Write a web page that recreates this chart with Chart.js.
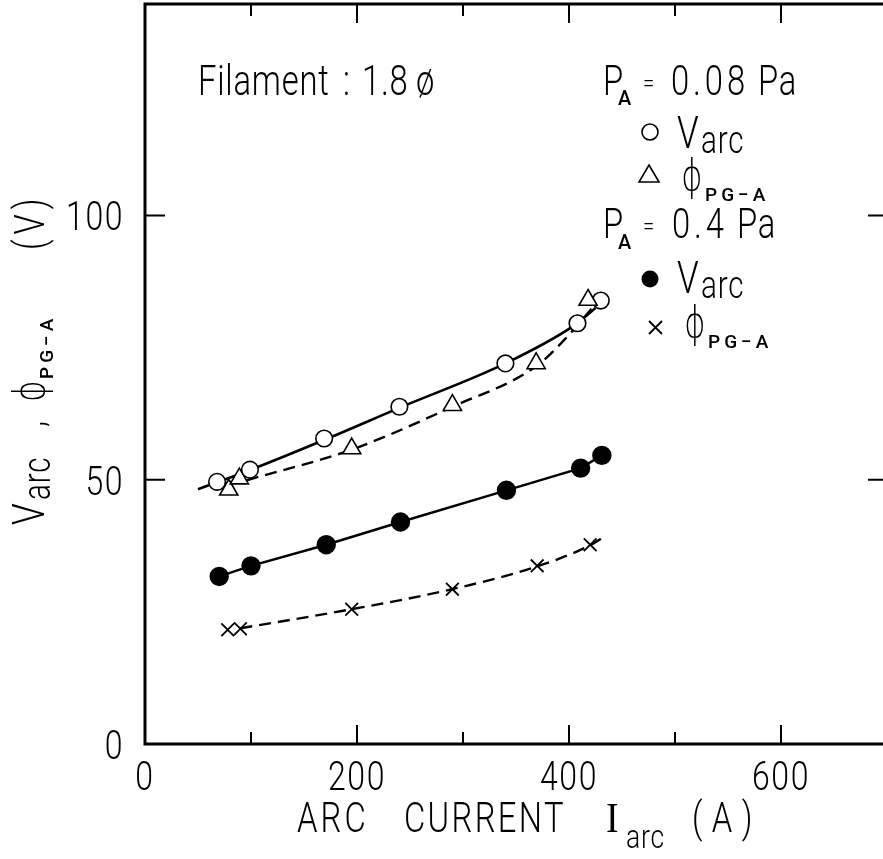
<!DOCTYPE html>
<html>
<head>
<meta charset="utf-8">
<script src="https://cdn.jsdelivr.net/npm/chart.js@4/dist/chart.umd.min.js"></script>
<style>
html,body{margin:0;padding:0;background:#fff;overflow:hidden;width:883px;height:859px;}
#wrap{position:absolute;left:0;top:0;width:890px;height:859px;}
</style>
</head>
<body>
<div id="wrap"><canvas id="c" width="890" height="859"></canvas></div>
<script>
// ---- data ----
const currentOpen   = [68, 99, 169, 240, 340, 408, 430];          // P_A = 0.08 Pa, V_arc (open circles)
const varcLow       = [49.6, 51.9, 57.8, 63.8, 72.0, 79.6, 83.9];
const currentTri    = [79, 89, 195, 290, 369, 418];                // P_A = 0.08 Pa, phi (triangles)
const phiLow        = [48.1, 50.2, 55.9, 64.1, 72.0, 84.0];
const currentFilled = [70, 100, 171, 241, 341, 411, 431];          // P_A = 0.4 Pa, V_arc (filled circles)
const varcHigh      = [31.7, 33.7, 37.7, 42.0, 48.0, 52.2, 54.6];
const currentCross  = [78, 90, 195, 290, 370, 420];                // P_A = 0.4 Pa, phi (crosses)
const phiHigh       = [21.6, 21.8, 25.5, 29.3, 33.7, 37.7];

// hand-drawn guide curves
const fitVarcLowX = [50, 100, 170, 240, 340, 405, 425];
const fitVarcLowY = [48.2, 51.9, 57.6, 63.6, 72.0, 79.2, 82.5];
const fitPhiLowX  = [96, 195, 290, 370, 399, 424];
const fitPhiLowY  = [49.9, 55.7, 63.8, 71.6, 77.2, 83.0];
const fitPhiHighX = [90, 195, 290, 370, 420, 433];
const fitPhiHighY = [21.9, 25.5, 29.3, 33.6, 37.6, 39.2];

const xTicks = [0, 100, 200, 300, 400, 500, 600, 700];
const xLabeled = [0, 200, 400, 600];
const yTicks = [0, 50, 100];

const FONT = 'Roboto,"DejaVu Sans","Liberation Sans",sans-serif';
const SERIF_I = '"Liberation Serif","DejaVu Serif",serif';
const SX = 0.78;

const pts = (xs, ys) => xs.map((x, i) => ({x: x, y: ys[i]}));

const frame = {
  id: 'frame',
  afterDraw(chart) {
    const ctx = chart.ctx, a = chart.chartArea;
    const xs = chart.scales.x, ys = chart.scales.y;
    ctx.save();
    ctx.strokeStyle = '#000';
    ctx.lineWidth = 3;
    ctx.beginPath();
    ctx.rect(a.left, a.top, a.right - a.left, a.bottom - a.top);
    ctx.stroke();
    ctx.lineWidth = 2;
    // x ticks (inward) bottom and top
    xs.ticks.forEach(tk => {
      const v = tk.value;
      if (v === 0 || v === 700) return;
      const px = xs.getPixelForValue(v);
      const len = (v % 200 === 0) ? 19 : 12;
      ctx.beginPath();
      ctx.moveTo(px, a.bottom); ctx.lineTo(px, a.bottom - len);
      ctx.moveTo(px, a.top); ctx.lineTo(px, a.top + len);
      ctx.stroke();
    });
    // y ticks (inward) left and right
    ys.ticks.forEach(tk => {
      const v = tk.value;
      if (v === 0) return;
      const py = ys.getPixelForValue(v);
      ctx.beginPath();
      ctx.moveTo(a.left, py); ctx.lineTo(a.left + 20, py);
      ctx.moveTo(a.right, py); ctx.lineTo(a.right - 19, py);
      ctx.stroke();
    });

    // ---- text ----
    ctx.fillStyle = '#000';
    ctx.textBaseline = 'alphabetic';
    const t = (s, x, y, size, opt) => {
      opt = opt || {};
      ctx.save();
      ctx.font = (opt.w || 300) + ' ' + size + 'px ' + (opt.f || FONT);
      ctx.textAlign = opt.align || 'left';
      ctx.letterSpacing = (opt.ls || 0) + 'px';
      ctx.translate(x, y);
      ctx.scale(opt.sx || SX, 1);
      ctx.fillText(s, 0, 0);
      ctx.restore();
    };
    const SUB = {w: 500, sx: 1, ls: 4};

    // tick labels at the library's tick positions
    xs.ticks.forEach(tk => {
      if (!xLabeled.includes(tk.value)) return;
      t(String(tk.value), xs.getPixelForValue(tk.value), 790, 41, {align: 'center', ls: 2});
    });
    ys.ticks.forEach(tk => {
      t(String(tk.value), 124, ys.getPixelForValue(tk.value) + 15, 41, {align: 'right', ls: 2});
    });

    // Filament label
    t('Filament', 198, 95, 42, {ls: 1});
    t(':', 343, 95, 42);
    t('1.8', 362, 95, 42, {ls: 1});
    t('ø', 416, 95, 42);

    // legend group 1
    t('P', 603, 95, 42); t('A', 618, 105, 20, {w: 500, sx: 1});
    t('=', 643, 92, 26);
    t('0.08', 671, 95, 42, {ls: 5}); t('Pa', 758, 95, 42, {ls: 1});
    ctx.lineWidth = 1.6;
    ctx.beginPath(); ctx.arc(650, 132, 8, 0, Math.PI * 2); ctx.stroke();
    t('V', 677, 148, 45); t('arc', 701, 153, 38, {ls: 1});
    ctx.beginPath();
    ctx.moveTo(649, 165); ctx.lineTo(659, 182); ctx.lineTo(639, 182); ctx.closePath(); ctx.stroke();
    t('ϕ', 681, 190, 42); t('PG−A', 705, 201, 19, SUB);

    // legend group 2
    t('P', 603, 238, 42); t('A', 618, 249, 20, {w: 500, sx: 1});
    t('=', 643, 235, 26);
    t('0.4', 672, 238, 42, {ls: 5}); t('Pa', 737, 238, 42, {ls: 1});
    ctx.beginPath(); ctx.arc(650, 279, 8.5, 0, Math.PI * 2); ctx.fill();
    t('V', 677, 293, 45); t('arc', 701, 298, 38, {ls: 1});
    ctx.lineWidth = 1.8;
    ctx.beginPath();
    ctx.moveTo(649, 321); ctx.lineTo(662, 334);
    ctx.moveTo(662, 321); ctx.lineTo(649, 334);
    ctx.stroke();
    t('ϕ', 684, 337, 42); t('PG−A', 708, 348, 19, SUB);

    // x axis title
    t('ARC', 297, 832, 42, {ls: 4});
    t('CURRENT', 404, 832, 42, {ls: 3});
    t('I', 606, 832, 42, {f: SERIF_I, w: 400, sx: 0.9});
    t('arc', 626, 848, 34, {ls: 1});
    t('(A)', 692, 832, 42, {ls: 12});

    // y axis title (rotated)
    ctx.save();
    ctx.translate(44, 0);
    ctx.rotate(-Math.PI / 2);
    // rotated frame: x = -pageY, y = pageX - 44
    t('V', -525, 0, 45);
    t('arc', -500, 6, 38, {ls: 1});
    t(',', -427, 0, 42);
    t('ϕ', -402, 0, 42);
    t('PG−A', -379, 9, 19, SUB);
    t('(V)', -250, 0, 42, {ls: 6});
    ctx.restore();

    ctx.restore();
  }
};

new Chart(document.getElementById('c'), {
  type: 'scatter',
  data: {
    datasets: [
      { data: pts(fitVarcLowX, fitVarcLowY), showLine: true, pointRadius: 0, borderColor: '#000', borderWidth: 2.6,
        cubicInterpolationMode: 'monotone', order: 2 },
      { data: pts(fitPhiLowX, fitPhiLowY), showLine: true, pointRadius: 0, borderColor: '#000', borderWidth: 2.4,
        borderDash: [12, 7], cubicInterpolationMode: 'monotone', order: 2 },
      { data: pts(fitPhiHighX, fitPhiHighY), showLine: true, pointRadius: 0, borderColor: '#000', borderWidth: 2.4,
        borderDash: [12, 7], cubicInterpolationMode: 'monotone', order: 2 },
      { data: pts(currentFilled, varcHigh), showLine: true, borderColor: '#000', borderWidth: 2.4,
        pointStyle: 'circle', pointRadius: 8.5, pointBackgroundColor: '#000', pointBorderColor: '#000', order: 1 },
      { data: pts(currentOpen, varcLow), pointStyle: 'circle', pointRadius: 8.3, pointBorderWidth: 1.6,
        pointBackgroundColor: '#fff', pointBorderColor: '#000', order: 1 },
      { data: pts(currentTri, phiLow), pointStyle: 'triangle', pointRadius: 10.5, pointBorderWidth: 1.6,
        pointBackgroundColor: '#fff', pointBorderColor: '#000', order: 0 },
      { data: pts(currentCross, phiHigh), pointStyle: 'crossRot', pointRadius: 9, pointBorderWidth: 1.8,
        pointBorderColor: '#000', order: 1 }
    ]
  },
  options: {
    responsive: false,
    animation: false,
    events: [],
    layout: { autoPadding: false, padding: { left: 0, top: 4, right: 3, bottom: 0 } },
    plugins: { legend: { display: false }, tooltip: { enabled: false } },
    scales: {
      x: {
        type: 'linear', min: 0, max: 700,
        grid: { display: false, drawTicks: false },
        border: { display: false },
        afterBuildTicks: s => { s.ticks = xTicks.map(v => ({ value: v })); },
        afterFit: s => { s.height = 115; s.paddingLeft = 0; s.paddingRight = 0; },
        ticks: { display: false }
      },
      y: {
        type: 'linear', min: 0, max: 140,
        grid: { display: false, drawTicks: false },
        border: { display: false },
        afterBuildTicks: s => { s.ticks = yTicks.map(v => ({ value: v })); },
        afterFit: s => { s.width = 145; s.paddingTop = 0; s.paddingBottom = 0; },
        ticks: { display: false }
      }
    }
  },
  plugins: [frame]
});
</script>
</body>
</html>
